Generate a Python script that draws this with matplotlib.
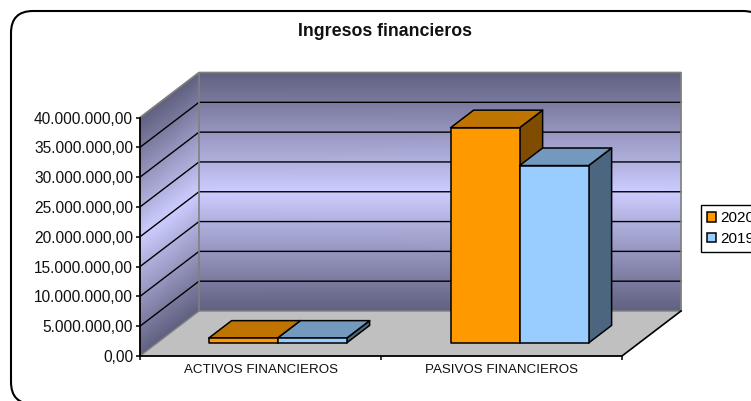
import matplotlib
matplotlib.use("Agg")
import matplotlib.pyplot as plt
from matplotlib.colors import LinearSegmentedColormap
from matplotlib.patches import FancyBboxPatch, Patch, Polygon

plt.rcParams["font.family"] = ["Liberation Sans", "DejaVu Sans"]

W, H = 751, 401

categories = ["ACTIVOS FINANCIEROS", "PASIVOS FINANCIEROS"]
series_names = ["2020", "2019"]
values_2020 = [800000, 36100000]
values_2019 = [800000, 29750000]
y_ticks = [0, 5000000, 10000000, 15000000, 20000000, 25000000, 30000000, 35000000, 40000000]
y_max = 40000000

FRONT = ["#FF9900", "#99CCFF"]
TOP = ["#BF7300", "#7399BF"]
SIDE = ["#804D00", "#4D6680"]
WALL_DARK = "#5F5F7F"; WALL_LIGHT = "#CCCCFF"
GREY = "#808080"; FLOOR = "#C0C0C0"


def es_fmt(v):
    return f"{v:,.2f}".replace(",", "X").replace(".", ",").replace("X", ".")


fig = plt.figure(figsize=(W / 100, H / 100), dpi=100, facecolor="white")

# page frame, runs off the right and bottom edge like the original
bg = fig.add_axes([0, 0, 1, 1], zorder=0)
bg.set_xlim(0, W); bg.set_ylim(H, 0); bg.axis("off")
bg.add_patch(FancyBboxPatch((33, 33), 710, 349, boxstyle="round,pad=22,rounding_size=22",
                            fc="white", ec="black", lw=1.5, clip_on=False))

# front plane of the 3d box
px_x0, px_x1, px_y0, px_y1 = 140, 622, 356, 117.5
ax = fig.add_axes([px_x0 / W, (H - px_y0) / H, (px_x1 - px_x0) / W, (px_y0 - px_y1) / H], zorder=1)
ax.patch.set_alpha(0)
ax.set_xlim(0, len(categories)); ax.set_ylim(0, y_max)

# depth of the box in data units
per_x = (px_x1 - px_x0) / len(categories)
per_y = (px_y0 - px_y1) / y_max
dx = 59 / per_x
dy = 45 / per_y
xr = len(categories)

cmap = LinearSegmentedColormap.from_list("wall", [WALL_DARK, WALL_LIGHT])
C = [[0, 0], [1, 1], [0, 0]]
levels = [0, y_max / 2, y_max]
back = ax.pcolormesh([[dx, xr + dx]] * 3, [[l + dy, l + dy] for l in levels], C,
                     shading="gouraud", cmap=cmap, vmin=0, vmax=1, zorder=1)
side = ax.pcolormesh([[0, dx]] * 3, [[l, l + dy] for l in levels], C,
                     shading="gouraud", cmap=cmap, vmin=0, vmax=1, zorder=1)
back.set_clip_on(False); side.set_clip_on(False)

ax.add_patch(Polygon([(0, 0), (xr, 0), (xr + dx, dy), (dx, dy)], fc=FLOOR, ec="none", zorder=2, clip_on=False))

for t in y_ticks[1:-1]:
    ax.plot([0, dx, xr + dx], [t, t + dy, t + dy], color="black", lw=1, zorder=3, clip_on=False)

# wall outlines
ax.plot([0, dx, xr + dx, xr + dx], [y_max, y_max + dy, y_max + dy, dy], color=GREY, lw=1.2, zorder=3, clip_on=False)
ax.plot([dx, dx], [dy, y_max + dy], color=GREY, lw=1.2, zorder=3, clip_on=False)
ax.plot([0, dx, xr + dx], [0, dy, dy], color=GREY, lw=1, zorder=3, clip_on=False)
ax.plot([xr, xr + dx], [0, dy], color="black", lw=1.2, zorder=3, clip_on=False)

# bars, sit inside the floor depth
bar_w = 69 / per_x
near = 0.29
far = 0.68
fx, fy = near * dx, near * dy
ox, oy = (far - near) * dx, (far - near) * dy
z = 4
for i in range(len(categories)):
    for s, vals in enumerate([values_2020, values_2019]):
        x0 = i + 0.5 + fx + (s - 1) * bar_w + i * 1 / per_x
        x1 = x0 + bar_w
        y0 = fy
        y1 = fy + vals[i]
        kw = dict(ec="black", lw=1.1, zorder=z, clip_on=False, joinstyle="round")
        ax.add_patch(Polygon([(x1, y0), (x1 + ox, y0 + oy), (x1 + ox, y1 + oy), (x1, y1)], fc=SIDE[s], **kw))
        ax.add_patch(Polygon([(x0, y1), (x1, y1), (x1 + ox, y1 + oy), (x0 + ox, y1 + oy)], fc=TOP[s], **kw))
        ax.add_patch(Polygon([(x0, y0), (x1, y0), (x1, y1), (x0, y1)], fc=FRONT[s], **kw))
        z += 1

for name in ["top", "right"]:
    ax.spines[name].set_visible(False)
for name in ["left", "bottom"]:
    ax.spines[name].set_linewidth(1.3)
    ax.spines[name].set_zorder(20)

ax.set_yticks(y_ticks)
ax.set_yticklabels([es_fmt(t) for t in y_ticks], fontsize=11.2, color="#111111")
ax.tick_params(axis="y", length=3, width=1.1, pad=2)
ax.set_xticks(range(len(categories) + 1))
ax.set_xticklabels([""] * (len(categories) + 1))
ax.tick_params(axis="x", length=3, width=1.1)
for i, c in enumerate(categories):
    ax.annotate(c, (i + 0.5, 0), xytext=(0, -10), textcoords="offset points",
                ha="center", va="center", fontsize=9.6, color="#111111", annotation_clip=False)

fig.text(384.5 / W, 1 - 32 / H, "Ingresos financieros", ha="center", va="center",
         fontsize=12.8, fontweight="bold", color="#111111")

handles = [Patch(fc=FRONT[k], ec="black", lw=1.1) for k in range(2)]
fig.legend(handles, series_names, loc="upper left",
           bbox_to_anchor=(701 / W, 1 - 205 / H), borderaxespad=0,
           fontsize=11, frameon=True, fancybox=False, framealpha=1, edgecolor="black",
           handlelength=0.55, handleheight=0.62, handletextpad=0.3,
           borderpad=0.42, labelspacing=0.42)

fig.savefig("out.png", dpi=100, facecolor="white")
